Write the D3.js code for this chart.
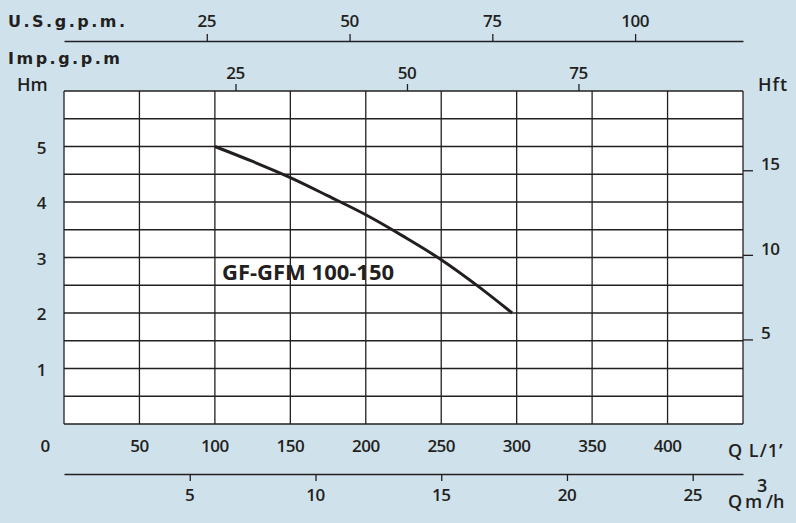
<!DOCTYPE html>
<html>
<head>
<meta charset="utf-8">
<script src="https://cdn.jsdelivr.net/npm/d3@7"></script>
<style>
  body { margin:0; background:#cfe2ec; }
  svg { display:block; }
  .tick-label { font-family:'Open Sans', sans-serif; font-size:17px; font-weight:600; fill:#231f20; letter-spacing:-0.5px; }
  .axis-title { font-family:'DejaVu Sans', sans-serif; font-size:16px; font-weight:bold; fill:#231f20; letter-spacing:2.5px; }
  .unit { font-family:'Open Sans', sans-serif; font-size:18px; font-weight:600; fill:#231f20; }
  .grid line { stroke:#231f20; stroke-width:1.3; }
  .curve-label { font-family:'Open Sans', sans-serif; font-size:22px; font-weight:700; fill:#231f20; }
</style>
</head>
<body>
<svg id="chart" width="796" height="523"></svg>
<script>
// performance curve (flow L/min, head m)
const flowLmin = [100, 125, 150, 175, 200, 225, 250, 275, 297];
const headM    = [5.0, 4.73, 4.44, 4.11, 3.77, 3.38, 2.96, 2.47, 2.0];

// tick labels
const qTicks   = [50, 100, 150, 200, 250, 300, 350, 400];
const hmTicks  = [1, 2, 3, 4, 5];
const hftTicks = [5, 10, 15];
const usTicks  = [25, 50, 75, 100];
const impTicks = [25, 50, 75];
const m3hTicks = [5, 10, 15, 20, 25];

const svg = d3.select('#chart');
const pLeft = 64, pRight = 743, pTop = 91, pBottom = 424;
const ink = '#231f20';

const x = d3.scaleLinear().domain([0, 450]).range([pLeft, pRight]);
const y = d3.scaleLinear().domain([0, 6]).range([pBottom, pTop]);

// secondary scales from unit conversions
const xUS  = d3.scaleLinear().domain([0, 450 / 3.785]).range([pLeft, pRight]);
const xImp = d3.scaleLinear().domain([0, 450 / 4.546]).range([pLeft, pRight]);
const xM3h = d3.scaleLinear().domain([0, 450 * 0.06]).range([pLeft, pRight]);
const yFt  = d3.scaleLinear().domain([0, 6 * 3.281]).range([pBottom, pTop]);

// plot background + grid
svg.append('rect')
    .attr('x', pLeft).attr('y', pTop)
    .attr('width', pRight - pLeft).attr('height', pBottom - pTop)
    .attr('fill', '#fff');

const grid = svg.append('g').attr('class', 'grid');
grid.selectAll('.v').data(d3.range(0, 451, 50))
    .enter().append('line')
    .attr('x1', d => x(d)).attr('x2', d => x(d))
    .attr('y1', pTop).attr('y2', pBottom);
grid.selectAll('.h').data(d3.range(0, 6.01, 0.5))
    .enter().append('line')
    .attr('x1', pLeft).attr('x2', pRight)
    .attr('y1', d => y(d)).attr('y2', d => y(d));

// curve
const pts = flowLmin.map((q, i) => [q, headM[i]]);
svg.append('path')
    .datum(pts)
    .attr('fill', 'none')
    .attr('stroke', ink)
    .attr('stroke-width', 3)
    .attr('d', d3.line().x(d => x(d[0])).y(d => y(d[1])).curve(d3.curveMonotoneX));

svg.append('text').attr('class', 'curve-label')
    .attr('x', 222).attr('y', 280)
    .text('GF-GFM 100-150');

// axis lines with ticks (US gpm on top, m3/h at the bottom, Imp gpm on plot top)
const styleAxis = g => {
    g.selectAll('path, line').attr('stroke', ink).attr('stroke-width', 1.3);
    g.selectAll('text').remove();
};
svg.append('g').attr('transform', 'translate(0,41)')
    .call(d3.axisTop(xUS).tickValues(usTicks).tickSize(7).tickSizeOuter(0))
    .call(styleAxis);
svg.append('g').attr('transform', `translate(0,${pTop})`)
    .call(d3.axisTop(xImp).tickValues(impTicks).tickSize(7).tickSizeOuter(0))
    .call(styleAxis)
    .select('.domain').remove();
svg.append('g').attr('transform', 'translate(0,474)')
    .call(d3.axisBottom(xM3h).tickValues(m3hTicks).tickSize(7).tickSizeOuter(0))
    .call(styleAxis);
svg.append('g').attr('transform', `translate(${pRight},0)`)
    .call(d3.axisRight(yFt).tickValues(hftTicks).tickSize(10).tickSizeOuter(0))
    .call(styleAxis)
    .select('.domain').remove();

// tick labels
svg.selectAll('.us').data(usTicks).enter().append('text')
    .attr('class', 'tick-label').attr('text-anchor', 'middle')
    .attr('x', d => xUS(d)).attr('y', 27).text(d => d);
svg.selectAll('.imp').data(impTicks).enter().append('text')
    .attr('class', 'tick-label').attr('text-anchor', 'middle')
    .attr('x', d => xImp(d)).attr('y', 79).text(d => d);
svg.selectAll('.q').data(qTicks).enter().append('text')
    .attr('class', 'tick-label').attr('text-anchor', 'middle')
    .attr('x', d => x(d)).attr('y', 452).text(d => d);
svg.append('text').attr('class', 'tick-label').attr('text-anchor', 'middle')
    .attr('x', x(0) - 19).attr('y', 452).text('0');
svg.selectAll('.m3h').data(m3hTicks).enter().append('text')
    .attr('class', 'tick-label').attr('text-anchor', 'middle')
    .attr('x', d => xM3h(d)).attr('y', 501).text(d => d);
svg.selectAll('.hm').data(hmTicks).enter().append('text')
    .attr('class', 'tick-label').attr('text-anchor', 'end')
    .attr('x', 46).attr('y', d => y(d) + 7).text(d => d);
svg.selectAll('.hft').data(hftTicks).enter().append('text')
    .attr('class', 'tick-label').attr('text-anchor', 'start')
    .attr('x', 761).attr('y', d => yFt(d)).text(d => d);

// axis titles
svg.append('text').attr('class', 'axis-title').attr('x', 8).attr('y', 27).text('U.S.g.p.m.');
svg.append('text').attr('class', 'axis-title').attr('x', 8).attr('y', 64).text('Imp.g.p.m');
svg.append('text').attr('class', 'unit').attr('x', 17).attr('y', 91).text('Hm');
svg.append('text').attr('class', 'unit').attr('x', 758).attr('y', 91).attr('letter-spacing', 1).text('Hft');
svg.append('text').attr('class', 'unit').attr('x', 728).attr('y', 457).attr('letter-spacing', 1).text('Q L/1\u2019');
svg.append('text').attr('class', 'unit').attr('x', 728).attr('y', 508).text('Q');
svg.append('text').attr('class', 'unit').attr('x', 745).attr('y', 508).text('m');
svg.append('text').attr('class', 'unit').attr('x', 766).attr('y', 508).text('/h');
svg.append('text').attr('class', 'unit').attr('font-size', 12).attr('x', 757).attr('y', 492).text('3');
</script>
</body>
</html>
